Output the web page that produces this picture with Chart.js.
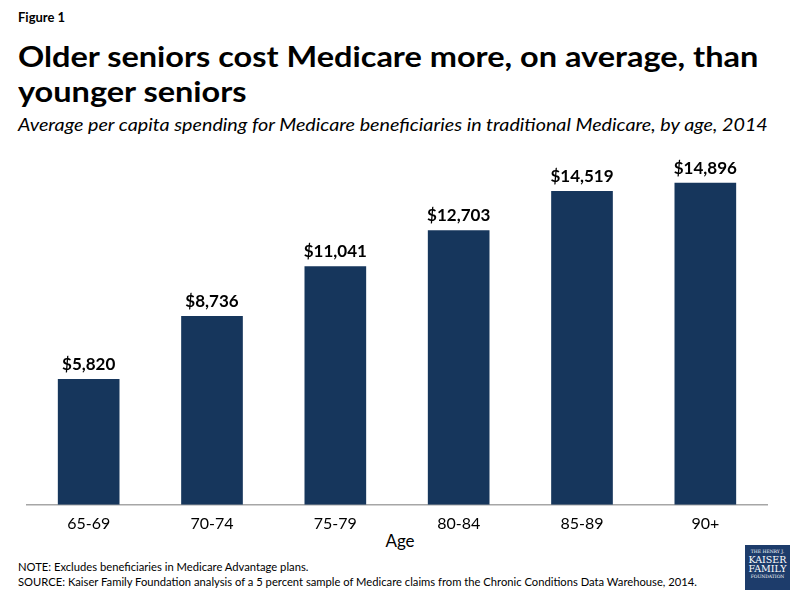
<!DOCTYPE html>
<html>
<head>
<meta charset="utf-8">
<script src="https://cdn.jsdelivr.net/npm/chart.js@4"></script>
<style>
  html, body { margin: 0; padding: 0; background: #fff; }
  #page { position: relative; width: 800px; height: 600px; overflow: hidden; font-family: Lato, "Open Sans", sans-serif; color: #000; }
  #page div.t { position: absolute; left: 18px; white-space: nowrap; transform-origin: 0 0; }
  #fig { top: 9px; font-size: 13px; font-weight: bold; }
  #title { top: 38px; font-size: 29px; font-weight: bold; line-height: 35px; transform: scaleX(1.12); }
  #sub { top: 114px; font-size: 17px; font-style: italic; transform: scaleX(1.16); }
  #age { position: absolute; top: 530px; left: 0; width: 800px; text-align: center; font-size: 17px; }
  #note { top: 559px; font-size: 11.5px; line-height: 15px; transform: scaleX(0.975); }
  #logo { position: absolute; left: 745px; top: 545px; width: 45px; height: 45px; background: #1d3c6b; color: #fff;
          font-family: "DejaVu Serif", serif; text-align: center; line-height: 1; }
  #logo .s { font-size: 4.5px; margin-top: 5px; }
  #logo .b { font-size: 9.5px; }
  canvas { position: absolute; left: 0; top: 0; }
</style>
</head>
<body>
<div id="page">
  <div class="t" id="fig">Figure 1</div>
  <div class="t" id="title">Older seniors cost Medicare more, on average, than<br>younger seniors</div>
  <div class="t" id="sub">Average per capita spending for Medicare beneficiaries in traditional Medicare, by age, 2014</div>
  <div id="age">Age</div>
  <div class="t" id="note">NOTE: Excludes beneficiaries  in Medicare Advantage plans.<br>SOURCE: Kaiser Family Foundation analysis of a 5 percent sample of Medicare claims from the Chronic Conditions Data Warehouse, 2014.</div>
  <div id="logo"><div class="s">THE HENRY J.</div><div class="b">KAISER</div><div class="b">FAMILY</div><div class="s" style="margin-top:1px">FOUNDATION</div></div>
  <canvas id="c" width="800" height="600"></canvas>
</div>
<script>
var ageGroups = ['65-69', '70-74', '75-79', '80-84', '85-89', '90+'];
var spending = [5820, 8736, 11041, 12703, 14519, 14896];

var barLabels = {
  id: 'barLabels',
  afterDatasetsDraw: function(chart) {
    var ctx = chart.ctx;
    var meta = chart.getDatasetMeta(0);
    ctx.save();
    ctx.font = 'bold 17px Lato, "Open Sans", sans-serif';
    ctx.fillStyle = '#000';
    ctx.textAlign = 'center';
    ctx.textBaseline = 'bottom';
    meta.data.forEach(function(bar, i) {
      ctx.fillText('$' + spending[i].toLocaleString('en-US'), bar.x, bar.y - 6);
    });
    ctx.restore();
  }
};

var ctx = document.getElementById('c').getContext('2d');
new Chart(ctx, {
  type: 'bar',
  data: {
    labels: ageGroups,
    datasets: [{
      data: spending,
      backgroundColor: '#16365c',
      borderWidth: 0,
      categoryPercentage: 1,
      barPercentage: 0.5
    }]
  },
  options: {
    responsive: false,
    animation: false,
    layout: { padding: { left: 27, right: 33, top: 159, bottom: 58 } },
    plugins: { legend: { display: false }, tooltip: { enabled: false } },
    scales: {
      x: {
        grid: { display: false, drawTicks: false },
        border: { display: true, color: '#a6a6a6', width: 1.5 },
        ticks: { color: '#000', font: { family: 'Lato, "Open Sans", sans-serif', size: 16 }, padding: 9 }
      },
      y: { display: false, min: 0, max: 16000 }
    }
  },
  plugins: [barLabels]
});
</script>
</body>
</html>
